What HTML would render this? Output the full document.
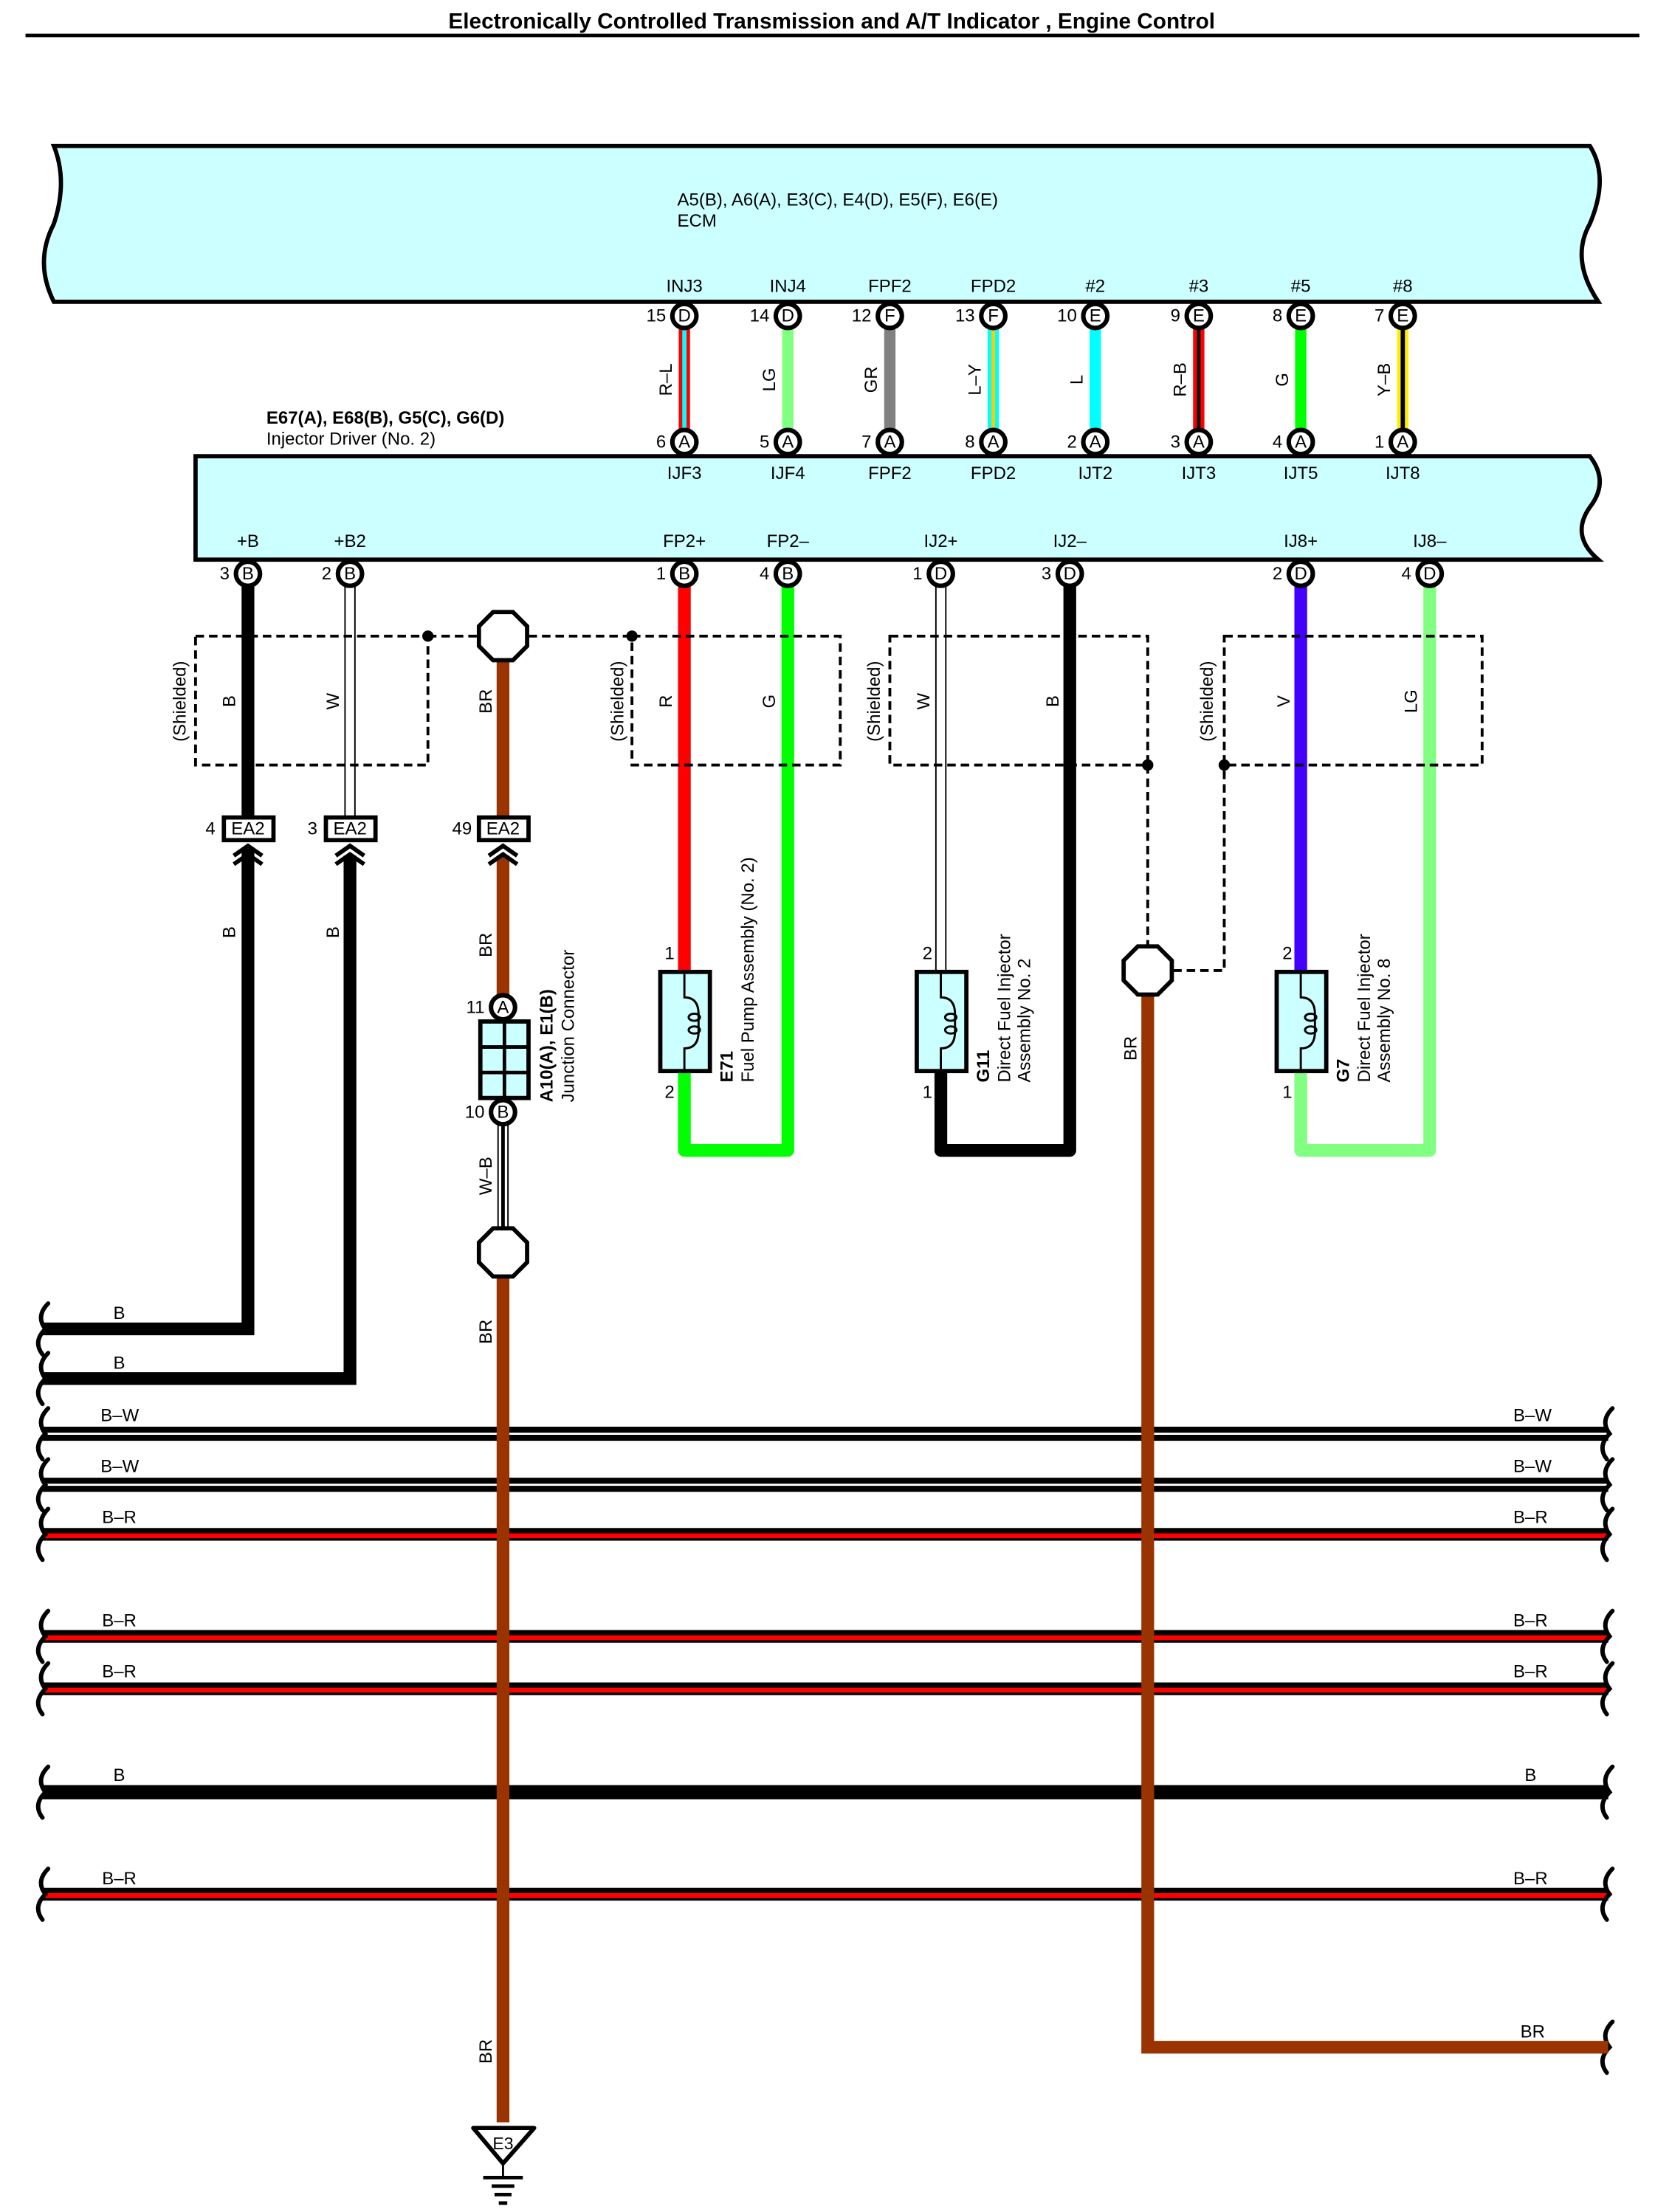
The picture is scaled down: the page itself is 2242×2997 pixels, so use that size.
<!DOCTYPE html>
<html><head><meta charset="utf-8"><style>
html,body{margin:0;padding:0;background:#fff}
svg{display:block}
text{font-family:"Liberation Sans",sans-serif;font-size:12.5px;fill:#000}
.c{text-anchor:middle}.e{text-anchor:end}.b{font-weight:bold}
</style></head><body>
<svg width="2242" height="2997" viewBox="0 0 1168 1561.3" preserveAspectRatio="none" xmlns="http://www.w3.org/2000/svg">
<rect width="1168" height="1562" fill="#fff"/>
<text x="587" y="20" class="c b" style="font-size:15.5px">Electronically Controlled Transmission and A/T Indicator , Engine Control</text>
<line x1="18" y1="25" x2="1157" y2="25" stroke="#000" stroke-width="2.5"/>

<path d="M38,103 H1122 q14,22 0,55 q-14,25 6,55 H38 q-14,-28 0,-55 q10,-30 0,-55 Z" fill="#ccffff" stroke="#000" stroke-width="3"/>
<text x="478" y="145">A5(B), A6(A), E3(C), E4(D), E5(F), E6(E)</text>
<text x="478" y="160">ECM</text>

<path d="M138,322 H1122 q14,18 0,36 q-14,20 6,37 H138 Z" fill="#ccffff" stroke="#000" stroke-width="3"/>
<text x="188" y="299" class="b">E67(A), E68(B), G5(C), G6(D)</text>
<text x="188" y="314">Injector Driver (No. 2)</text>

<g>
<line x1="483" y1="228" x2="483" y2="308" stroke="#f00" stroke-width="8"/><line x1="483" y1="228" x2="483" y2="308" stroke="#0ff" stroke-width="3"/>
<line x1="556" y1="228" x2="556" y2="308" stroke="#80ff80" stroke-width="8"/>
<line x1="628" y1="228" x2="628" y2="308" stroke="#808080" stroke-width="8"/>
<line x1="701" y1="228" x2="701" y2="308" stroke="#0ff" stroke-width="8"/><line x1="701" y1="228" x2="701" y2="308" stroke="#fc0" stroke-width="2.5"/>
<line x1="773" y1="228" x2="773" y2="308" stroke="#0ff" stroke-width="8"/>
<line x1="846" y1="228" x2="846" y2="308" stroke="#f00" stroke-width="8"/><line x1="846" y1="228" x2="846" y2="308" stroke="#000" stroke-width="2.5"/>
<line x1="918" y1="228" x2="918" y2="308" stroke="#0f0" stroke-width="8"/>
<line x1="990" y1="228" x2="990" y2="308" stroke="#fe0" stroke-width="8"/><line x1="990" y1="228" x2="990" y2="308" stroke="#000" stroke-width="3"/>
</g>
<g>
<text transform="translate(474,268) rotate(-90)" class="c">R–L</text>
<text transform="translate(547,268) rotate(-90)" class="c">LG</text>
<text transform="translate(619,268) rotate(-90)" class="c">GR</text>
<text transform="translate(692,268) rotate(-90)" class="c">L–Y</text>
<text transform="translate(764,268) rotate(-90)" class="c">L</text>
<text transform="translate(837,268) rotate(-90)" class="c">R–B</text>
<text transform="translate(909,268) rotate(-90)" class="c">G</text>
<text transform="translate(981,268) rotate(-90)" class="c">Y–B</text>
</g>
<g>
<text x="483" y="206" class="c">INJ3</text><text x="556" y="206" class="c">INJ4</text><text x="628" y="206" class="c">FPF2</text><text x="701" y="206" class="c">FPD2</text>
<text x="773" y="206" class="c">#2</text><text x="846" y="206" class="c">#3</text><text x="918" y="206" class="c">#5</text><text x="990" y="206" class="c">#8</text>
<text x="483" y="338" class="c">IJF3</text><text x="556" y="338" class="c">IJF4</text><text x="628" y="338" class="c">FPF2</text><text x="701" y="338" class="c">FPD2</text>
<text x="773" y="338" class="c">IJT2</text><text x="846" y="338" class="c">IJT3</text><text x="918" y="338" class="c">IJT5</text><text x="990" y="338" class="c">IJT8</text>
</g>
<g fill="#fff" stroke="#000" stroke-width="3.2">
<circle cx="483" cy="223" r="8.5"/><circle cx="556" cy="223" r="8.5"/><circle cx="628" cy="223" r="8.5"/><circle cx="701" cy="223" r="8.5"/><circle cx="773" cy="223" r="8.5"/><circle cx="846" cy="223" r="8.5"/><circle cx="918" cy="223" r="8.5"/><circle cx="990" cy="223" r="8.5"/>
<circle cx="483" cy="312" r="8.5"/><circle cx="556" cy="312" r="8.5"/><circle cx="628" cy="312" r="8.5"/><circle cx="701" cy="312" r="8.5"/><circle cx="773" cy="312" r="8.5"/><circle cx="846" cy="312" r="8.5"/><circle cx="918" cy="312" r="8.5"/><circle cx="990" cy="312" r="8.5"/>
</g>
<g style="font-size:11.5px">
<text x="483" y="227" class="c">D</text><text x="556" y="227" class="c">D</text><text x="628" y="227" class="c">F</text><text x="701" y="227" class="c">F</text><text x="773" y="227" class="c">E</text><text x="846" y="227" class="c">E</text><text x="918" y="227" class="c">E</text><text x="990" y="227" class="c">E</text>
<text x="483" y="316" class="c">A</text><text x="556" y="316" class="c">A</text><text x="628" y="316" class="c">A</text><text x="701" y="316" class="c">A</text><text x="773" y="316" class="c">A</text><text x="846" y="316" class="c">A</text><text x="918" y="316" class="c">A</text><text x="990" y="316" class="c">A</text>
</g>
<g>
<text x="470" y="227" class="e">15</text><text x="543" y="227" class="e">14</text><text x="615" y="227" class="e">12</text><text x="688" y="227" class="e">13</text><text x="760" y="227" class="e">10</text><text x="833" y="227" class="e">9</text><text x="905" y="227" class="e">8</text><text x="977" y="227" class="e">7</text>
<text x="470" y="316" class="e">6</text><text x="543" y="316" class="e">5</text><text x="615" y="316" class="e">7</text><text x="688" y="316" class="e">8</text><text x="760" y="316" class="e">2</text><text x="833" y="316" class="e">3</text><text x="905" y="316" class="e">4</text><text x="977" y="316" class="e">1</text>
</g>

<g>
<line x1="30" y1="1012" x2="1135" y2="1012" stroke="#000" stroke-width="10"/><line x1="30" y1="1012" x2="1135" y2="1012" stroke="#fff" stroke-width="1.5"/>
<line x1="30" y1="1048" x2="1135" y2="1048" stroke="#000" stroke-width="10"/><line x1="30" y1="1048" x2="1135" y2="1048" stroke="#fff" stroke-width="1.5"/>
<line x1="30" y1="1083" x2="1135" y2="1083" stroke="#000" stroke-width="9"/><line x1="30" y1="1084" x2="1135" y2="1084" stroke="#f00" stroke-width="3.5"/>
<line x1="30" y1="1155" x2="1135" y2="1155" stroke="#000" stroke-width="9"/><line x1="30" y1="1156" x2="1135" y2="1156" stroke="#f00" stroke-width="3.5"/>
<line x1="30" y1="1192" x2="1135" y2="1192" stroke="#000" stroke-width="9"/><line x1="30" y1="1193" x2="1135" y2="1193" stroke="#f00" stroke-width="3.5"/>
<line x1="30" y1="1265" x2="1135" y2="1265" stroke="#000" stroke-width="10"/>
<line x1="30" y1="1337" x2="1135" y2="1337" stroke="#000" stroke-width="9"/><line x1="30" y1="1338" x2="1135" y2="1338" stroke="#f00" stroke-width="3.5"/>
</g>
<g>
<text x="80" y="931">B</text><text x="80" y="966">B</text>
<text x="71" y="1003">B–W</text><text x="71" y="1039">B–W</text><text x="72" y="1075">B–R</text><text x="72" y="1148">B–R</text><text x="72" y="1184">B–R</text><text x="80" y="1257">B</text><text x="72" y="1330">B–R</text>
<text x="1068" y="1003">B–W</text><text x="1068" y="1039">B–W</text><text x="1068" y="1075">B–R</text><text x="1068" y="1148">B–R</text><text x="1068" y="1184">B–R</text><text x="1076" y="1257">B</text><text x="1068" y="1330">B–R</text><text x="1073" y="1438">BR</text>
</g>
<g fill="none" stroke="#000" stroke-width="3" stroke-linecap="round">
<path d="M34,920 q-9,9 -2,18 q-9,9 -2,18"/><path d="M34,955 q-9,9 -2,18 q-9,9 -2,18"/>
<path d="M34,994 q-9,9 -2,18 q-9,9 -2,18"/><path d="M34,1030 q-9,9 -2,18 q-9,9 -2,18"/><path d="M34,1065 q-9,9 -2,18 q-9,9 -2,18"/>
<path d="M34,1137 q-9,9 -2,18 q-9,9 -2,18"/><path d="M34,1174 q-9,9 -2,18 q-9,9 -2,18"/><path d="M34,1247 q-9,9 -2,18 q-9,9 -2,18"/><path d="M34,1319 q-9,9 -2,18 q-9,9 -2,18"/>
<path d="M1138,994 q-9,9 -2,18 q-9,9 -2,18"/><path d="M1138,1030 q-9,9 -2,18 q-9,9 -2,18"/><path d="M1138,1065 q-9,9 -2,18 q-9,9 -2,18"/>
<path d="M1138,1137 q-9,9 -2,18 q-9,9 -2,18"/><path d="M1138,1174 q-9,9 -2,18 q-9,9 -2,18"/><path d="M1138,1247 q-9,9 -2,18 q-9,9 -2,18"/><path d="M1138,1319 q-9,9 -2,18 q-9,9 -2,18"/><path d="M1138,1427 q-9,9 -2,18 q-9,9 -2,18"/>
</g>

<polyline points="175,410 175,938 30,938" fill="none" stroke="#000" stroke-width="9"/>
<line x1="243.5" y1="410" x2="243.5" y2="578" stroke="#000" stroke-width="1"/><line x1="250.5" y1="410" x2="250.5" y2="578" stroke="#000" stroke-width="1"/>
<polyline points="247,600 247,973 30,973" fill="none" stroke="#000" stroke-width="9"/>
<rect x="168" y="577" width="14" height="22" fill="#fff"/><rect x="240" y="594" width="14" height="10" fill="#fff"/>
<line x1="355" y1="460" x2="355" y2="712" stroke="#993300" stroke-width="9"/>
<line x1="355" y1="895" x2="355" y2="1498" stroke="#993300" stroke-width="9"/>
<line x1="351.5" y1="790" x2="351.5" y2="875" stroke="#000" stroke-width="1"/><line x1="358.5" y1="790" x2="358.5" y2="875" stroke="#000" stroke-width="1"/><line x1="355" y1="790" x2="355" y2="875" stroke="#000" stroke-width="2.5"/>
<rect x="348" y="594" width="14" height="10" fill="#fff"/>
<g fill="#fff" stroke="#000" stroke-width="3">
<rect x="158" y="577" width="35" height="16"/><rect x="230" y="577" width="35" height="16"/><rect x="338" y="577" width="35" height="16"/>
</g>
<text x="175" y="589" class="c">EA2</text><text x="247" y="589" class="c">EA2</text><text x="355" y="589" class="c">EA2</text>
<text x="152" y="589" class="e">4</text><text x="224" y="589" class="e">3</text><text x="333" y="589" class="e">49</text>
<g fill="none" stroke="#000" stroke-width="3">
<polyline points="165,604 175,597 185,604"/><polyline points="165,610 175,603 185,610"/>
<polyline points="237,604 247,597 257,604"/><polyline points="237,610 247,603 257,610"/>
<polyline points="345,604 355,597 365,604"/><polyline points="345,610 355,603 365,610"/>
</g>

<line x1="483" y1="410" x2="483" y2="685" stroke="#f00" stroke-width="9"/>
<polyline points="483,757 483,812 556,812 556,410" fill="none" stroke="#0f0" stroke-width="9" stroke-linejoin="round"/>
<line x1="660.5" y1="410" x2="660.5" y2="685" stroke="#000" stroke-width="1"/><line x1="667.5" y1="410" x2="667.5" y2="685" stroke="#000" stroke-width="1"/>
<polyline points="664,757 664,812 755,812 755,410" fill="none" stroke="#000" stroke-width="9" stroke-linejoin="round"/>
<line x1="918" y1="410" x2="918" y2="685" stroke="#4400ff" stroke-width="9"/>
<polyline points="918,757 918,812 1009,812 1009,410" fill="none" stroke="#80ff80" stroke-width="9" stroke-linejoin="round"/>
<polyline points="810,700 810,1445 1135,1445" fill="none" stroke="#993300" stroke-width="9"/>

<g fill="none" stroke="#000" stroke-width="2" stroke-dasharray="6,3.5">
<rect x="138" y="449" width="164" height="91"/>
<line x1="302" y1="449" x2="337" y2="449"/><line x1="373" y1="449" x2="446" y2="449"/>
<rect x="446" y="449" width="147" height="91"/>
<rect x="628" y="449" width="182" height="91"/>
<line x1="810" y1="540" x2="810" y2="667"/>
<polyline points="828,685 864,685 864,540"/>
<rect x="864" y="449" width="182" height="91"/>
</g>
<g fill="#000"><circle cx="302" cy="449" r="4"/><circle cx="446" cy="449" r="4"/><circle cx="810" cy="540" r="4"/><circle cx="864" cy="540" r="4"/></g>
<g fill="#fff" stroke="#000" stroke-width="3">
<polygon points="348,432 362,432 372,442 372,456 362,466 348,466 338,456 338,442"/>
<polygon points="348,867 362,867 372,877 372,891 362,901 348,901 338,891 338,877"/>
<polygon points="803,668 817,668 827,678 827,692 817,702 803,702 793,692 793,678"/>
</g>
<g>
<text transform="translate(131,495) rotate(-90)" class="c">(Shielded)</text>
<text transform="translate(440,495) rotate(-90)" class="c">(Shielded)</text>
<text transform="translate(621,495) rotate(-90)" class="c">(Shielded)</text>
<text transform="translate(856,495) rotate(-90)" class="c">(Shielded)</text>
<text transform="translate(166,495) rotate(-90)" class="c">B</text>
<text transform="translate(239,495) rotate(-90)" class="c">W</text>
<text transform="translate(347,495) rotate(-90)" class="c">BR</text>
<text transform="translate(474,495) rotate(-90)" class="c">R</text>
<text transform="translate(547,495) rotate(-90)" class="c">G</text>
<text transform="translate(656,495) rotate(-90)" class="c">W</text>
<text transform="translate(747,495) rotate(-90)" class="c">B</text>
<text transform="translate(910,495) rotate(-90)" class="c">V</text>
<text transform="translate(1000,495) rotate(-90)" class="c">LG</text>
<text transform="translate(166,658) rotate(-90)" class="c">B</text>
<text transform="translate(239,658) rotate(-90)" class="c">B</text>
<text transform="translate(347,667) rotate(-90)" class="c">BR</text>
<text transform="translate(347,830) rotate(-90)" class="c">W–B</text>
<text transform="translate(347,940) rotate(-90)" class="c">BR</text>
<text transform="translate(347,1448) rotate(-90)" class="c">BR</text>
<text transform="translate(802,740) rotate(-90)" class="c">BR</text>
</g>

<g>
<text x="175" y="386" class="c">+B</text><text x="247" y="386" class="c">+B2</text><text x="483" y="386" class="c">FP2+</text><text x="556" y="386" class="c">FP2–</text>
<text x="664" y="386" class="c">IJ2+</text><text x="755" y="386" class="c">IJ2–</text><text x="918" y="386" class="c">IJ8+</text><text x="1009" y="386" class="c">IJ8–</text>
</g>
<g fill="#fff" stroke="#000" stroke-width="3.2">
<circle cx="175" cy="405" r="8.5"/><circle cx="247" cy="405" r="8.5"/><circle cx="483" cy="405" r="8.5"/><circle cx="556" cy="405" r="8.5"/><circle cx="664" cy="405" r="8.5"/><circle cx="755" cy="405" r="8.5"/><circle cx="918" cy="405" r="8.5"/><circle cx="1009" cy="405" r="8.5"/>
<circle cx="355" cy="711" r="8.5"/><circle cx="355" cy="785" r="8.5"/>
</g>
<g style="font-size:11.5px">
<text x="175" y="409" class="c">B</text><text x="247" y="409" class="c">B</text><text x="483" y="409" class="c">B</text><text x="556" y="409" class="c">B</text><text x="664" y="409" class="c">D</text><text x="755" y="409" class="c">D</text><text x="918" y="409" class="c">D</text><text x="1009" y="409" class="c">D</text>
<text x="355" y="715" class="c">A</text><text x="355" y="789" class="c">B</text>
</g>
<g>
<text x="162" y="409" class="e">3</text><text x="234" y="409" class="e">2</text><text x="470" y="409" class="e">1</text><text x="543" y="409" class="e">4</text><text x="651" y="409" class="e">1</text><text x="742" y="409" class="e">3</text><text x="905" y="409" class="e">2</text><text x="996" y="409" class="e">4</text>
<text x="342" y="715" class="e">11</text><text x="342" y="789" class="e">10</text>
</g>

<rect x="339" y="721" width="34" height="54" fill="#ccffff" stroke="#000" stroke-width="3"/>
<g stroke="#000" stroke-width="2.5"><line x1="356" y1="721" x2="356" y2="775"/><line x1="339" y1="739" x2="373" y2="739"/><line x1="339" y1="757" x2="373" y2="757"/></g>
<text transform="translate(390,778) rotate(-90)" class="b">A10(A), E1(B)</text>
<text transform="translate(405,778) rotate(-90)">Junction Connector</text>

<g fill="#ccffff" stroke="#000" stroke-width="3">
<rect x="466" y="686" width="35" height="70"/><rect x="647" y="686" width="35" height="70"/><rect x="901" y="686" width="35" height="70"/>
</g>
<g fill="none" stroke="#000" stroke-width="1.5">
<path d="M483,686 V704 q10,0 10,12 V728 q0,12 -10,12 V756"/>
<path d="M664,686 V704 q10,0 10,12 V728 q0,12 -10,12 V756"/>
<path d="M918,686 V704 q10,0 10,12 V728 q0,12 -10,12 V756"/>
<ellipse cx="490" cy="718" rx="4" ry="2.5"/><ellipse cx="490" cy="727" rx="4" ry="2.5"/>
<ellipse cx="671" cy="718" rx="4" ry="2.5"/><ellipse cx="671" cy="727" rx="4" ry="2.5"/>
<ellipse cx="925" cy="718" rx="4" ry="2.5"/><ellipse cx="925" cy="727" rx="4" ry="2.5"/>
</g>
<g>
<text x="476" y="677" class="e">1</text><text x="476" y="775" class="e">2</text>
<text x="658" y="677" class="e">2</text><text x="658" y="775" class="e">1</text>
<text x="912" y="677" class="e">2</text><text x="912" y="775" class="e">1</text>
<text transform="translate(517,764) rotate(-90)" class="b">E71</text>
<text transform="translate(532,764) rotate(-90)">Fuel Pump Assembly (No. 2)</text>
<text transform="translate(698,764) rotate(-90)" class="b">G11</text>
<text transform="translate(713,764) rotate(-90)">Direct Fuel Injector</text>
<text transform="translate(727,764) rotate(-90)">Assembly No. 2</text>
<text transform="translate(952,764) rotate(-90)" class="b">G7</text>
<text transform="translate(967,764) rotate(-90)">Direct Fuel Injector</text>
<text transform="translate(981,764) rotate(-90)">Assembly No. 8</text>
</g>

<polygon points="334,1502 377,1502 355,1527" fill="#fff" stroke="#000" stroke-width="3" stroke-linejoin="round"/>
<text x="355" y="1517" class="c" style="font-size:12px">E3</text>
<g stroke="#000"><line x1="355" y1="1527" x2="355" y2="1537" stroke-width="1.5"/>
<line x1="341" y1="1537" x2="369" y2="1537" stroke-width="2.5"/><line x1="347" y1="1543" x2="363" y2="1543" stroke-width="2.5"/><line x1="349" y1="1549" x2="361" y2="1549" stroke-width="2.5"/><line x1="352" y1="1555" x2="358" y2="1555" stroke-width="2.5"/></g>
</svg>
</body></html>
